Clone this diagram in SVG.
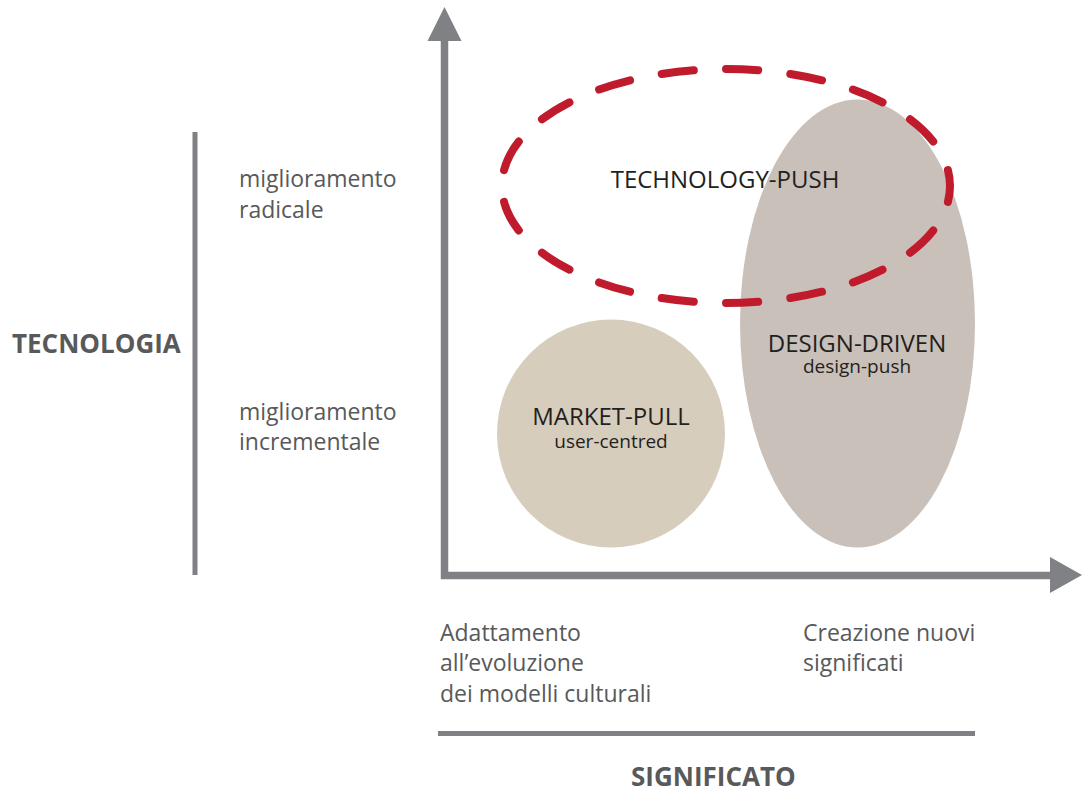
<svg xmlns="http://www.w3.org/2000/svg" width="1083" height="792" viewBox="0 0 1083 792">
  <style>
    .axis { fill: none; stroke: #808184; stroke-width: 7.5; stroke-linejoin: miter; stroke-linecap: butt; }
    .head { fill: #808184; }
    .bar { fill: none; stroke: #808184; stroke-width: 5; }
    .lbl { font-family: "Open Sans", "Liberation Sans", sans-serif; font-size: 23px; fill: #58595b; }
    .title { font-family: "Open Sans", "Liberation Sans", sans-serif; font-size: 26px; font-weight: 700; fill: #58595b; }
    .name { font-family: "Open Sans", "Liberation Sans", sans-serif; font-size: 24px; fill: #231f20; text-anchor: middle; }
    .sub { font-family: "Open Sans", "Liberation Sans", sans-serif; font-size: 19px; fill: #231f20; text-anchor: middle; }
  </style>
  <rect width="1083" height="792" fill="#ffffff"/>

  <!-- shaded regions -->
  <g id="node-design-driven">
    <ellipse cx="857.5" cy="323.5" rx="117.5" ry="224" fill="#c9c0b9"/>
  </g>
  <g id="node-market-pull">
    <circle cx="611" cy="433.5" r="114" fill="#d7cdbc"/>
  </g>
  <g id="node-technology-push">
    <ellipse cx="726" cy="186" rx="224" ry="117" fill="none" stroke="#c01b2d" stroke-width="8" stroke-linecap="round" pathLength="1700" stroke-dasharray="50 50" stroke-dashoffset="25"/>
    <text class="name" x="725" y="188">TECHNOLOGY-PUSH</text>
  </g>
  <g id="node-design-driven-label">
    <text class="name" x="857" y="352">DESIGN-DRIVEN</text>
    <text class="sub" x="857" y="373">design-push</text>
  </g>
  <g id="node-market-pull-label">
    <text class="name" x="611" y="425">MARKET-PULL</text>
    <text class="sub" x="611" y="448">user-centred</text>
  </g>

  <!-- chart axes -->
  <g id="connectors">
    <path class="axis" d="M444.5,40 V575.5 H1052"/>
    <polygon class="head" points="444.5,7 461.5,41 427.5,41"/>
    <polygon class="head" points="1082,575 1050,557 1050,593"/>
  </g>

  <!-- vertical scale: technology -->
  <g id="scale-tecnologia">
    <line class="bar" x1="195" y1="132" x2="195" y2="575"/>
    <text class="title" x="12" y="353">TECNOLOGIA</text>
    <text class="lbl" x="239" y="187">miglioramento</text>
    <text class="lbl" x="239" y="217.5">radicale</text>
    <text class="lbl" x="239" y="419.5">miglioramento</text>
    <text class="lbl" x="239" y="450">incrementale</text>
  </g>

  <!-- horizontal scale: meaning -->
  <g id="scale-significato">
    <line class="bar" x1="438" y1="733.5" x2="975" y2="733.5"/>
    <text class="lbl" x="440" y="640.5">Adattamento</text>
    <text class="lbl" x="440" y="671">all’evoluzione</text>
    <text class="lbl" x="440" y="701.5">dei modelli culturali</text>
    <text class="lbl" x="803" y="640.5">Creazione nuovi</text>
    <text class="lbl" x="803" y="671">significati</text>
    <text class="title" x="631" y="786">SIGNIFICATO</text>
  </g>
</svg>
